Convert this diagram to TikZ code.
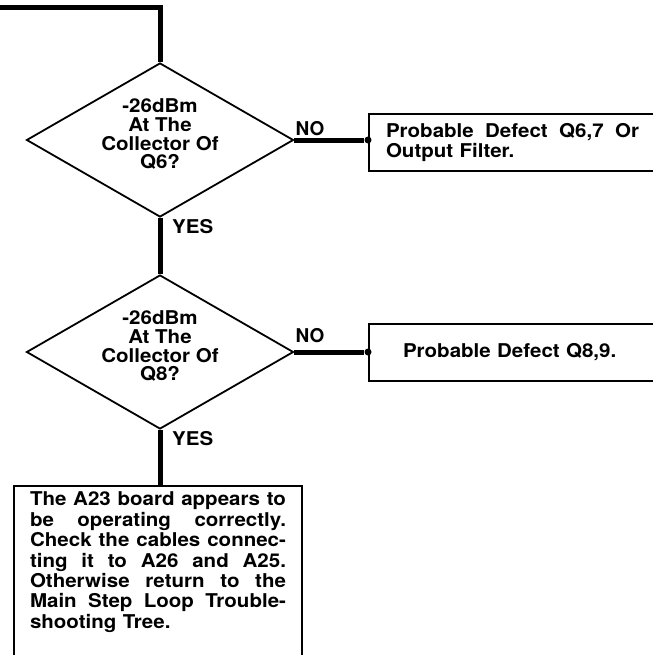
\documentclass[tikz,border=0pt]{standalone}
\usepackage{fontspec}
\setmainfont{TeX Gyre Heros}[FakeStretch=1.08]
\newfontfamily\narrowfont{TeX Gyre Heros}
\usetikzlibrary{shapes.geometric}
\newcommand\jline[2][\linewidth]{\leavevmode\hbox to #1{\spaceskip=0.28em plus 1fil\relax #2}}
\begin{document}
\begin{tikzpicture}[x=1bp,y=-1bp,
  conn/.style={line width=5bp},
  decision/.style={diamond,aspect=1.73,draw,line width=1.8bp,minimum width=267bp,minimum height=154bp,inner sep=0pt,align=center,font=\fontsize{19bp}{18.7bp}\selectfont\bfseries},
  result/.style={draw,line width=2bp,font=\fontsize{19bp}{20.4bp}\selectfont\bfseries,align=left,anchor=north west},
  lbl/.style={font=\fontsize{19bp}{20bp}\selectfont\bfseries,inner sep=0pt,anchor=base west},
  dot/.style={circle,fill,inner sep=0pt,minimum size=7bp}]
\useasboundingbox (0,0) rectangle (653,655);
\clip (0,0) rectangle (653,655);
\coordinate (start) at (-5,8);
\node[decision] (d1) at (160,140) {-26dBm\\At The\\Collector Of\\Q6?\rule[-12bp]{0pt}{0pt}};
\node[decision] (d2) at (160,352) {-26dBm\\At The\\Collector Of\\Q8?\rule[-12bp]{0pt}{0pt}};
\node[result,minimum width=330bp,minimum height=57bp,inner xsep=17bp,text width=296bp] (b1) at (368,113)
  {\jline[253bp]{Probable Defect Q6,7 Or}\\Output Filter.};
\node[result,minimum width=330bp,minimum height=57bp,inner xsep=34bp,text width=262bp] (b2) at (368,323)
  {Probable Defect Q8,9.};
\node[result,inner xsep=16bp,inner ysep=6bp,text width=256bp] (b3) at (13,485)
  {\jline{The A23 board appears to}\\
   \jline{be operating correctly.}\\
   \jline{Check the cables connec-}\\
   \jline{ting it to A26 and A25.}\\
   \jline{Otherwise return to the}\\
   \jline{Main Step Loop Trouble-}\\
   shooting Tree.\rule[-80bp]{0pt}{0pt}};
\node[dot] (j1) at (d1.east -| b1.west) {};
\node[dot] (j2) at (d2.east -| b2.west) {};
\draw[conn] (start) -| (d1.north);
\draw[conn] (d1.south) -- (d2.north);
\draw[conn] (d1.east) -- (j1);
\draw[conn] (d2.east) -- (j2);
\draw[conn] (d2.south) -- (d2.south |- b3.north);
\node[lbl,font=\fontsize{19bp}{20bp}\narrowfont\bfseries] (no1) at ([xshift=1bp,yshift=5bp]d1.east) {NO};
\node[lbl,font=\fontsize{19bp}{20bp}\narrowfont\bfseries] (no2) at ([xshift=1bp,yshift=10bp]d2.east) {NO};
\node[lbl] (yes1) at ([xshift=12bp,yshift=-16bp]d1.south) {YES};
\node[lbl] (yes2) at ([xshift=12bp,yshift=-16bp]d2.south) {YES};
\end{tikzpicture}
\end{document}
